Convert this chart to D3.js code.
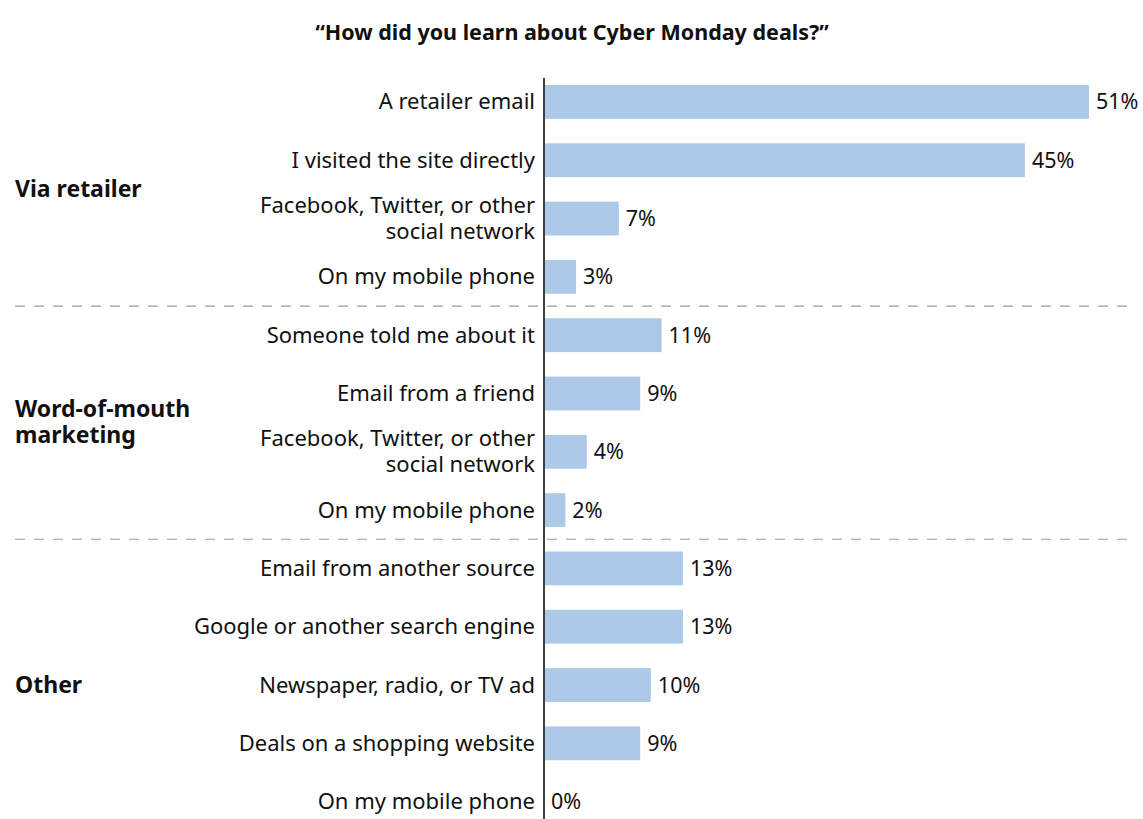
<!DOCTYPE html>
<html>
<head>
<meta charset="utf-8">
<script src="https://cdn.jsdelivr.net/npm/d3@7"></script>
<style>
body{margin:0;background:#fff;}
text{font-family:"Noto Sans",sans-serif;fill:#111;}
</style>
</head>
<body>
<div class="chart"></div>
<script>
// categories (two-line labels split with |)
var categories=[
	'A retailer email',
	'I visited the site directly',
	'Facebook, Twitter, or other|social network',
	'On my mobile phone',
	'Someone told me about it',
	'Email from a friend',
	'Facebook, Twitter, or other|social network',
	'On my mobile phone',
	'Email from another source',
	'Google or another search engine',
	'Newspaper, radio, or TV ad',
	'Deals on a shopping website',
	'On my mobile phone'
];
var values=[51,45,7,3,11,9,4,2,13,13,10,9,0];
var groups=['Via retailer','Word-of-mouth|marketing','Other'];
var groupRows=[[0,3],[4,7],[8,12]];
var title='“How did you learn about Cyber Monday deals?”';

var width=1143,height=819;
var x0=544;
var lineGap=26;

var data=categories.map(function(c,i){
	return {id:i,label:c,value:values[i]};
});

var svg=d3.select('div.chart')
		.append('svg')
		.attr('width',width)
		.attr('height',height);

var yScale=d3.scaleBand()
		.domain(data.map(function(d){return d.id;}))
		.range([72.8,830.8])
		.paddingInner(0.42)
		.paddingOuter(0.21);
var xScale=d3.scaleLinear()
		.domain([0,51])
		.range([x0,x0+545]);

svg.append('text')
	.attr('x',572)
	.attr('y',40)
	.attr('text-anchor','middle')
	.attr('font-size','21.5px')
	.attr('font-weight','bold')
	.text(title);

//分组虚线
[3,7].forEach(function(i){
	var y=(yScale(i)+yScale.bandwidth()+yScale(i+1))/2;
	svg.append('line')
		.attr('x1',15).attr('x2',1136)
		.attr('y1',y).attr('y2',y)
		.attr('stroke','#999')
		.attr('stroke-width',1.2)
		.attr('stroke-dasharray','10,9');
});

//条形
svg.selectAll('.bar')
	.data(data)
	.enter()
	.append('rect')
	.attr('class','bar')
	.attr('x',xScale(0)+1)
	.attr('y',function(d){return yScale(d.id);})
	.attr('width',function(d){return Math.max(0,xScale(d.value)-xScale(0)-1);})
	.attr('height',yScale.bandwidth())
	.attr('fill','#adc9e8');

//数值
svg.selectAll('.val')
	.data(data)
	.enter()
	.append('text')
	.attr('class','val')
	.attr('x',function(d){return xScale(d.value)+7;})
	.attr('y',function(d){return yScale(d.id)+yScale.bandwidth()/2;})
	.attr('dy','0.35em')
	.attr('font-size','21.5px')
	.text(function(d){return d.value+'%';});

// one <text> per line so lines don't share a box
function multiLine(parts,x,yc,anchor,size,weight){
	parts.forEach(function(p,k){
		svg.append('text')
			.attr('x',x)
			.attr('y',yc-(parts.length-1)*lineGap/2+k*lineGap+7.5)
			.attr('text-anchor',anchor)
			.attr('font-size',size)
			.attr('font-weight',weight)
			.text(p);
	});
}

//类别标签
data.forEach(function(d){
	multiLine(d.label.split('|'),535,yScale(d.id)+yScale.bandwidth()/2,'end','22px','normal');
});

//分组标签
groups.forEach(function(g,i){
	var r=groupRows[i];
	var yc=(yScale(r[0])+yScale(r[1])+yScale.bandwidth())/2;
	multiLine(g.split('|'),15,yc,'start','23px','bold');
});

//轴线
svg.append('line')
	.attr('x1',x0).attr('x2',x0)
	.attr('y1',78).attr('y2',height)
	.attr('stroke','#000')
	.attr('stroke-width',1.5);
</script>
</body>
</html>
